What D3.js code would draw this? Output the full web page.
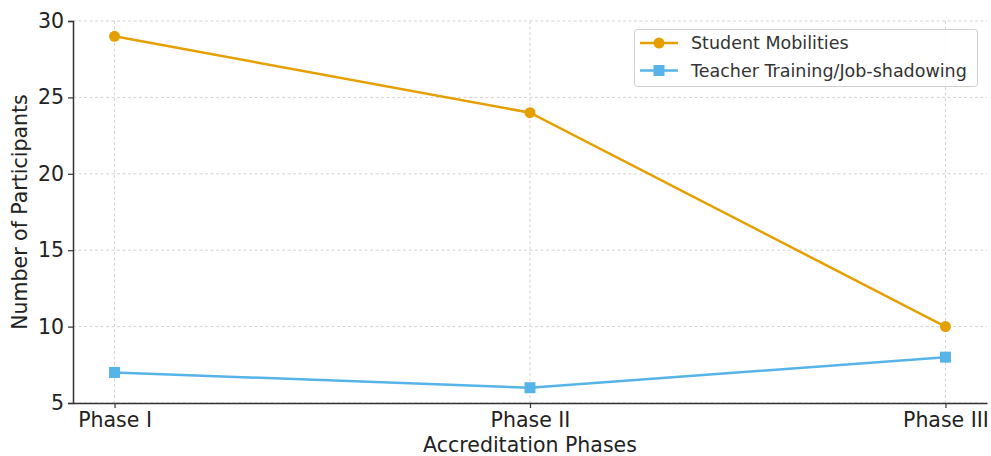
<!DOCTYPE html>
<html><head><meta charset="utf-8">
<script src="https://cdn.jsdelivr.net/npm/d3@7"></script>
<style>body{margin:0;background:#fff}svg{display:block;font-family:"DejaVu Sans",sans-serif}</style>
</head><body><svg id="c" width="991" height="456"></svg>
<script>
const categories = ["Phase I","Phase II","Phase III"];
const studentMobilities = [29,24,10];
const teacherTraining = [7,6,8];
const yTicks = [5,10,15,20,25,30];
const seriesNames = ["Student Mobilities","Teacher Training/Job-shadowing"];
const colors = ["#E69F00","#56B4E9"];

const svg = d3.select("#c");
const L=73, R=987, T=21, B=403;
const x = d3.scaleLinear().domain([-0.1,2.1]).range([L,R]);
const y = d3.scaleLinear().domain([5,30]).range([B,T]);

// grid
const g = svg.append("g");
g.selectAll(".gy").data(yTicks).join("line")
 .attr("x1",L).attr("x2",R).attr("y1",d=>y(d)).attr("y2",d=>y(d))
 .attr("stroke","#c8c8c8").attr("stroke-width",0.8).attr("stroke-dasharray","3,2.5");
g.selectAll(".gx").data(categories).join("line")
 .attr("x1",(d,i)=>x(i)).attr("x2",(d,i)=>x(i)).attr("y1",T).attr("y2",B)
 .attr("stroke","#c8c8c8").attr("stroke-width",0.8).attr("stroke-dasharray","3,2.5");

// axes
const ya = svg.append("g").attr("transform",`translate(${L},0)`)
 .call(d3.axisLeft(y).tickValues(yTicks).tickSize(5).tickPadding(4));
ya.select(".domain").attr("stroke","#333").attr("stroke-width",1.5);
ya.selectAll(".tick line").attr("stroke","#333").attr("stroke-width",1.2);
ya.selectAll("text").attr("font-size",20.5).attr("fill","#222").attr("font-family","DejaVu Sans");

const xa = svg.append("g").attr("transform",`translate(0,${B})`)
 .call(d3.axisBottom(x).tickValues([0,1,2]).tickFormat(i=>categories[i]).tickSize(5).tickPadding(4).tickSizeOuter(0));
xa.select(".domain").attr("stroke","#333").attr("stroke-width",1.5);
xa.selectAll(".tick line").attr("stroke","#333").attr("stroke-width",1.2);
xa.selectAll("text").attr("font-size",20.5).attr("fill","#222").attr("font-family","DejaVu Sans");

svg.append("text").attr("x",530).attr("y",452).attr("text-anchor","middle")
 .attr("font-size",20.5).attr("fill","#222").text("Accreditation Phases");
svg.append("text").attr("transform",`translate(27,${(T+B)/2}) rotate(-90)`).attr("text-anchor","middle")
 .attr("font-size",20.5).attr("fill","#222").text("Number of Participants");

// lines
const line = d3.line().x((d,i)=>x(i)).y(d=>y(d));
[studentMobilities, teacherTraining].forEach((s,k)=>{
  svg.append("path").datum(s).attr("d",line).attr("fill","none").attr("stroke",colors[k]).attr("stroke-width",2.5);
  if(k===0){
    svg.selectAll(".m0").data(s).join("circle").attr("cx",(d,i)=>x(i)).attr("cy",d=>y(d)).attr("r",5.5).attr("fill",colors[k]);
  } else {
    svg.selectAll(".m1").data(s).join("rect").attr("x",(d,i)=>x(i)-5.5).attr("y",d=>y(d)-5.5).attr("width",11).attr("height",11).attr("fill",colors[k]);
  }
});

// legend
const lg = svg.append("g");
lg.append("rect").attr("x",634.5).attr("y",29.5).attr("width",343).attr("height",57).attr("rx",3)
 .attr("fill","#fff").attr("fill-opacity",0.85).attr("stroke","#d0d0d0").attr("stroke-width",1);
seriesNames.forEach((n,k)=>{
  const yy = 43 + k*27.5;
  lg.append("line").attr("x1",640).attr("x2",678).attr("y1",yy).attr("y2",yy).attr("stroke",colors[k]).attr("stroke-width",2.5);
  if(k===0) lg.append("circle").attr("cx",659).attr("cy",yy).attr("r",5.5).attr("fill",colors[k]);
  else lg.append("rect").attr("x",653.5).attr("y",yy-5.5).attr("width",11).attr("height",11).attr("fill",colors[k]);
  lg.append("text").attr("x",691).attr("y",yy+6).attr("font-size",17.5).attr("fill","#333").text(n);
});
</script></body></html>
